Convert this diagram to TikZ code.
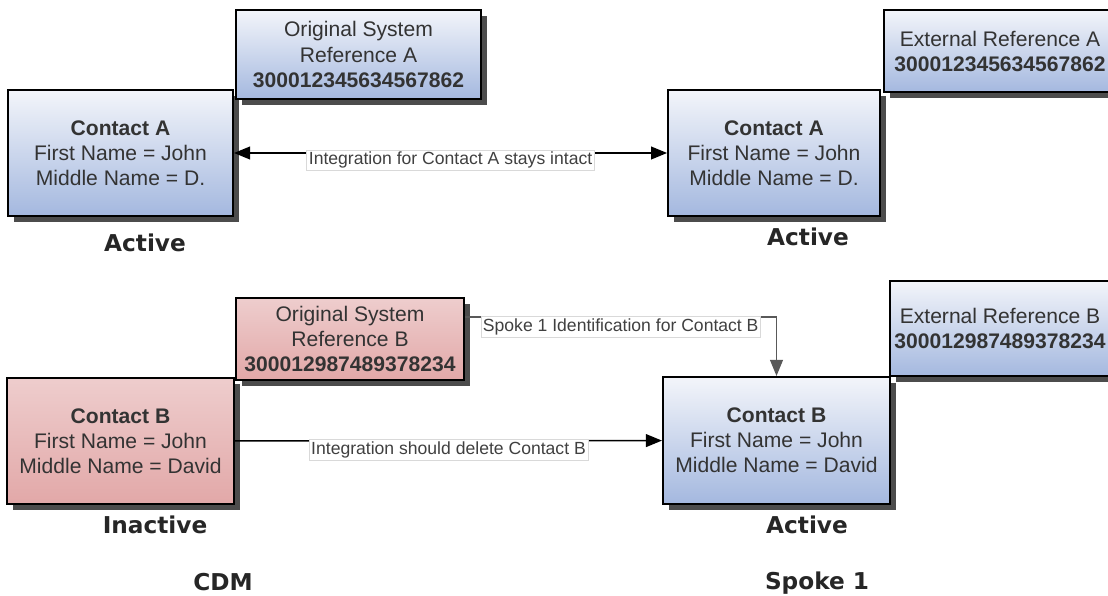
\documentclass[tikz,border=0pt]{standalone}
\usepackage{fontspec}
\setmainfont{Liberation Sans}
\newfontfamily\statfont{DejaVu Sans}
\usetikzlibrary{arrows.meta}
\usetikzlibrary{positioning}
\usetikzlibrary{shadows}

\definecolor{bluetop}{HTML}{F3F5FA}
\definecolor{bluebot}{HTML}{A4B8DF}
\definecolor{pinktop}{HTML}{EECDCD}
\definecolor{pinkbot}{HTML}{E2A8A8}

\begin{document}
\begin{tikzpicture}[x=0.025cm,y=-0.025cm,
  >={Triangle[length=0.4cm,width=0.32cm]},
  base box/.style={draw=black,line width=1.3pt,align=center,inner sep=0pt,
    font=\fontsize{15}{17.8}\selectfont,text=black!80,
    drop shadow={shadow xshift=0.15cm,shadow yshift=-0.15cm,fill=black!70,opacity=1}},
  blue box/.style={base box,top color=bluetop,bottom color=bluebot},
  pink box/.style={base box,top color=pinktop,bottom color=pinkbot},
  link label/.style={fill=white,draw=black!15,line width=0.4pt,inner sep=1.5pt,
    font=\fontsize{12.5}{14}\selectfont,text=black!75},
  status/.style={font=\statfont\bfseries\fontsize{16.5}{19}\selectfont,text=black!85},
  link/.style={line width=1pt}]

  \useasboundingbox (0,0) rectangle (1108,596);
  \clip (0,0) rectangle (1108,596);

  % CDM side
  \node[blue box,minimum width=5.63cm,minimum height=3.15cm] (cA1) at (120.5,153)
    {\textbf{Contact A}\\First Name = John\\Middle Name = D.};
  \node[blue box,minimum width=6.13cm,minimum height=2.23cm] (osrA) at (358.5,54.5)
    {Original System\\Reference A\\\textbf{300012345634567862}};
  \node[pink box,minimum width=5.68cm,minimum height=3.15cm] (cB1) at (120.5,441)
    {\textbf{Contact B}\\First Name = John\\Middle Name = David};
  \node[pink box,minimum width=5.7cm,minimum height=2.05cm] (osrB) at (350,339)
    {Original System\\Reference B\\\textbf{300012987489378234}};

  % spoke side
  \node[blue box,minimum width=5.3cm,minimum height=3.15cm] (cA2) at (774,153)
    {\textbf{Contact A}\\First Name = John\\Middle Name = D.};
  \node[blue box,minimum width=5.8cm,minimum height=2.05cm] (extA) at (1000,51)
    {External Reference A\\\textbf{300012345634567862}};
  \node[blue box,minimum width=5.68cm,minimum height=3.18cm] (cB2) at (776.5,440.5)
    {\textbf{Contact B}\\First Name = John\\Middle Name = David};
  \node[blue box,minimum width=5.5cm,minimum height=2.38cm] (extB) at (1000,328.5)
    {External Reference B\\\textbf{300012987489378234}};

  \node[status] (stA1) at (145,243) {Active};
  \node[status] (stA2) at (808,237) {Active};
  \node[status] (stB1) at (155,525) {Inactive};
  \node[status] (stB2) at (807,525) {Active};
  \node[status] (cdm) at (223,582) {CDM};
  \node[status] (spoke) at (817,583) {Spoke 1};

  \draw[link,<->] (cA1) -- node[link label,yshift=-0.18cm]
    {Integration for Contact A stays intact} (cA2);
  \draw[link,->] (cB1) -- node[link label,yshift=-0.22cm]
    {Integration should delete Contact B} (cB2);
  \draw[link,->,draw=black!65] ([yshift=0.55cm]osrB.east) -| node[link label,pos=0.25,yshift=-0.25cm]
    {Spoke 1 Identification for Contact B} (cB2.north);
\end{tikzpicture}
\end{document}
